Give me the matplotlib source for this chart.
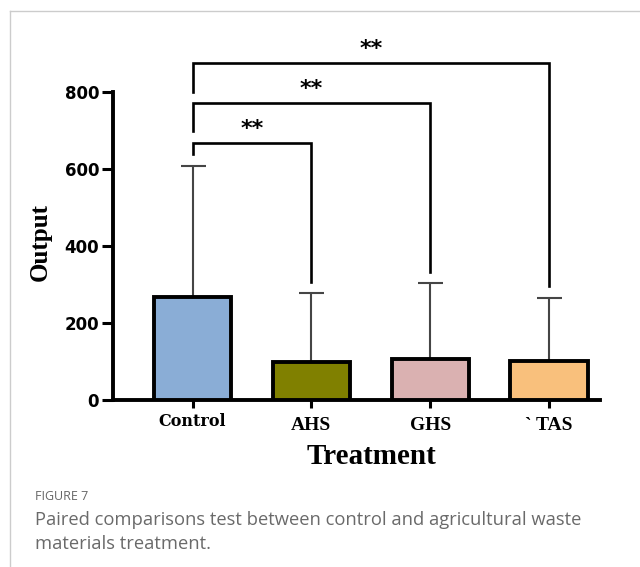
import matplotlib
matplotlib.use("Agg")
import matplotlib.pyplot as plt
from matplotlib.lines import Line2D

# data
groups = ["Control", "AHS", "GHS", "` TAS"]
means = [268, 99, 106, 101]
upper_err = [340, 179, 198, 164]  # bar top to cap
colors = ["#8aadd6", "#808000", "#dab1b1", "#f9c07c"]

# significance brackets: (group index, bracket height, left leg end, right leg end)
brackets = [(1, 667, 639, 306), (2, 771, 699, 332), (3, 875, 800, 296)]
star_text = "**"

fig = plt.figure(figsize=(6.4, 5.67), dpi=100)
ax = fig.add_axes([0.1766, 0.2945, 0.761, 0.6111])

x = list(range(len(groups)))
ax.bar(x, means, width=0.65, color=colors, edgecolor="black", linewidth=2.8, zorder=3)
ax.errorbar(x, means, yerr=[[0] * len(means), upper_err], fmt="none",
            ecolor="#454545", elinewidth=1.5, capsize=9, capthick=1.5, zorder=2)

for gi, h, lleg, rleg in brackets:
    ax.plot([0, 0, gi, gi], [lleg, h, h, rleg], color="black", lw=1.9,
            clip_on=False, solid_joinstyle="miter")
    ax.text(gi / 2, h + 12, star_text, ha="center", va="bottom", fontsize=16,
            fontweight="bold", family="DejaVu Sans", clip_on=False)

ax.set_xlim(-0.67, 3.43)
ax.set_ylim(0, 900)
ax.spines["top"].set_visible(False)
ax.spines["right"].set_visible(False)
ax.spines["left"].set_bounds(0, 800)
ax.spines["left"].set_linewidth(2.8)
ax.spines["bottom"].set_linewidth(2.8)
ax.set_yticks([0, 200, 400, 600, 800])
ax.tick_params(axis="y", length=8, width=2.2, labelsize=12, pad=2)
ax.tick_params(axis="x", length=6, width=2.2, pad=6)
for lab in ax.get_yticklabels():
    lab.set_fontweight("heavy")
    lab.set_family("DejaVu Sans")
ax.set_xticks(x)
ax.set_xticklabels(groups, family="Liberation Serif", fontweight="bold", fontsize=14)
ctrl = ax.get_xticklabels()[0]
ctrl.set_family("DejaVu Serif")
ctrl.set_fontsize(11.5)
ctrl.set_y(0.012)

ax.set_ylabel("Output", family="Liberation Serif", fontweight="bold", fontsize=18)
ax.yaxis.set_label_coords(-0.125, 0.455)
ax.set_xlabel("Treatment", family="Liberation Serif", fontweight="bold", fontsize=21)
ax.xaxis.set_label_coords(0.53, -0.125)

# frame lines of the figure panel
fig.add_artist(Line2D([10 / 640, 10 / 640], [0, 1 - 11 / 567], color="#cccccc", lw=1))
fig.add_artist(Line2D([10 / 640, 1], [1 - 11 / 567, 1 - 11 / 567], color="#cccccc", lw=1))

fig.text(35 / 640, 1 - 497 / 567, "FIGURE 7", family="Open Sans", fontsize=9,
         color="#666666", va="center")
fig.text(35 / 640, 1 - 532 / 567,
         "Paired comparisons test between control and agricultural waste\nmaterials treatment.",
         family="Open Sans", fontsize=13.2, color="#6a6a6a", va="center", linespacing=1.38)

fig.savefig("out.png", dpi=100)
